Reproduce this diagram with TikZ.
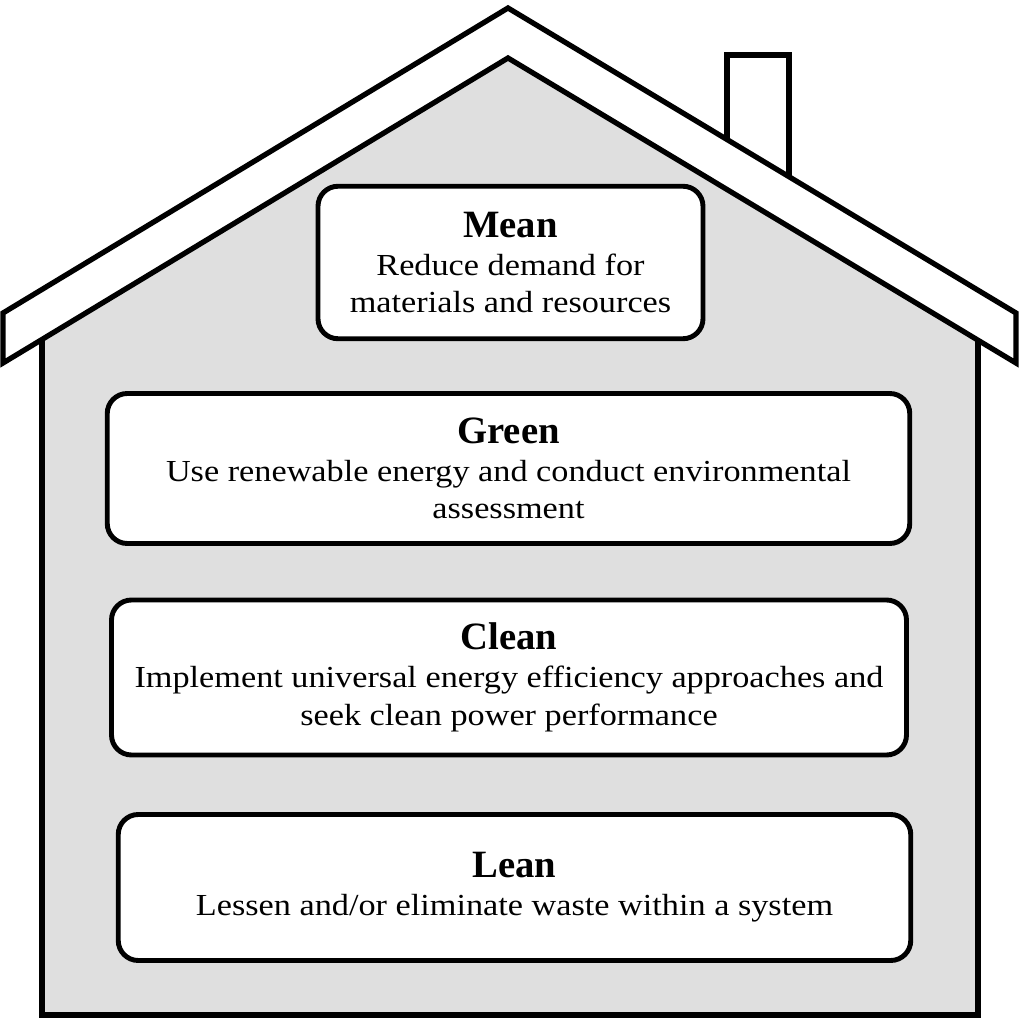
\documentclass[tikz,border=0pt]{standalone}
\usepackage{fontspec}
\setmainfont{Liberation Serif}[FakeStretch=1.12]
\newfontfamily\headfont{Liberation Serif}
\usepackage{tikz}
\usetikzlibrary{positioning}
\definecolor{wallgray}{RGB}{223,223,223}
\tikzset{
  layer/.style={draw=black, line width=2.8pt, fill=white, rounded corners=0.4cm, align=center, inner sep=0pt, font=\fontsize{17.4}{21.5}\selectfont},
  outline/.style={draw=black, line width=3pt, line join=miter}
}
\newcommand{\layertitle}[1]{{\headfont\bfseries\fontsize{22}{21.5}\selectfont #1}}

\begin{document}
\begin{tikzpicture}
 %the house of four layers
  \useasboundingbox (0,0) rectangle (20.38,20.48);
  %house body
    \fill[wallgray] (0.84,0.18) -- (0.84,13.69) -- (10.16,19.32) -- (19.56,13.68) -- (19.56,0.18) -- cycle;
  %chimney
    \draw[outline,fill=white] (14.54,17.4) -- (14.54,19.38) -- (15.78,19.38) -- (15.78,16.6);
  %roof
    \draw[outline,fill=white] (0.06,14.22) -- (10.16,20.32) -- (20.32,14.22) -- (20.32,13.22) -- (10.16,19.32) -- (0.06,13.22) -- cycle;
  %walls
    \draw[outline] (0.84,13.69) -- (0.84,0.18) -- (19.56,0.18) -- (19.56,13.68);
  %layers
    \node[layer,minimum width=7.7cm,minimum height=3.05cm] (mean) at (10.21,15.23) {\layertitle{Mean}\\Reduce demand for\\materials and resources};
    \node[layer,minimum width=16.05cm,minimum height=3cm] (green) at (10.17,11.11) {\layertitle{Green}\\Use renewable energy and conduct environmental\\assessment};
    \node[layer,minimum width=15.9cm,minimum height=3.1cm] (clean) at (10.18,6.93) {\layertitle{Clean}\\Implement universal energy efficiency approaches and\\seek clean power performance};
    \node[layer,minimum width=15.85cm,minimum height=2.92cm] (lean) at (10.29,2.73) {\layertitle{Lean}\\Lessen and/or eliminate waste within a system};
\end{tikzpicture}
\end{document}
